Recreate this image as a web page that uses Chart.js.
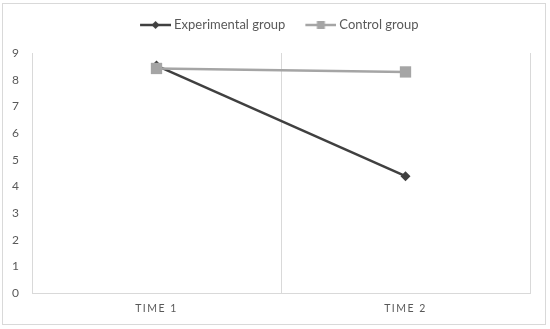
<!DOCTYPE html>
<html>
<head>
<meta charset="utf-8">
<script src="https://cdn.jsdelivr.net/npm/chart.js@4/dist/chart.umd.min.js"></script>
<style>
  html, body { margin: 0; padding: 0; background: #fff; }
  #wrap { position: relative; width: 550px; height: 329px; }
  #frame { position: absolute; left: 2px; top: 3px; width: 544px; height: 322px; box-sizing: border-box; border: 1px solid #d9d9d9; }
  canvas { position: absolute; left: 0; top: 0; }
</style>
</head>
<body>
<div id="wrap">
  <div id="frame"></div>
  <canvas id="c" width="550" height="329"></canvas>
</div>
<script>
const categories = ['TIME 1', 'TIME 2'];
const seriesNames = ['Experimental group', 'Control group'];
const experimental = [8.53, 4.38];
const control = [8.42, 8.29];
const yTicks = [0, 1, 2, 3, 4, 5, 6, 7, 8, 9];

const FONT = 'Lato';
const EXP_COLOR = '#404040';
const CTL_COLOR = '#a5a5a5';

function legendIcon(color, shape) {
  const cv = document.createElement('canvas');
  cv.width = 47; cv.height = 14;
  const g = cv.getContext('2d');
  g.strokeStyle = color; g.lineWidth = 2.5;
  g.beginPath(); g.moveTo(16, 7); g.lineTo(47, 7); g.stroke();
  g.fillStyle = color;
  const cx = 31.5, cy = 7;
  g.beginPath();
  if (shape === 'diamond') {
    g.moveTo(cx, cy - 4); g.lineTo(cx + 4, cy); g.lineTo(cx, cy + 4); g.lineTo(cx - 4, cy);
  } else {
    g.rect(cx - 4, cy - 4, 8, 8);
  }
  g.closePath(); g.fill();
  return cv;
}
const icons = [legendIcon(EXP_COLOR, 'diamond'), legendIcon(CTL_COLOR, 'square')];

const layoutPlugin = {
  id: 'layoutTweaks',
  beforeInit(chart) {
    const lg = chart.legend;
    if (lg) {
      const f = lg.fit;
      lg.fit = function () { f.call(this); this.height = 42; };
    }
  },
  afterLayout(chart) {
    const lg = chart.legend;
    if (lg) { lg.left += 3; lg.right += 3; }
  },
  beforeDraw(chart) {
    const sx = chart.scales.x;
    if (sx && !sx._lsPatched) {
      const orig = sx.drawLabels;
      sx.drawLabels = function (a) {
        this.ctx.save();
        this.ctx.letterSpacing = '1.5px';
        orig.call(this, a);
        this.ctx.restore();
      };
      sx._lsPatched = true;
    }
  }
};

new Chart(document.getElementById('c'), {
  type: 'line',
  data: {
    labels: categories,
    datasets: [
      {
        label: seriesNames[0], data: experimental, order: 1,
        borderColor: EXP_COLOR, backgroundColor: EXP_COLOR, borderWidth: 2.5,
        pointStyle: 'rectRot', pointRadius: 5, pointBorderWidth: 0, pointBackgroundColor: EXP_COLOR,
        tension: 0
      },
      {
        label: seriesNames[1], data: control, order: 0,
        borderColor: CTL_COLOR, backgroundColor: CTL_COLOR, borderWidth: 2.5,
        pointStyle: 'rect', pointRadius: 8, pointBorderWidth: 0, pointBackgroundColor: CTL_COLOR,
        tension: 0
      }
    ]
  },
  options: {
    responsive: false,
    animation: false,
    devicePixelRatio: 1,
    layout: { padding: { left: 10, right: 20, top: 11, bottom: 0 } },
    plugins: {
      tooltip: { enabled: false },
      legend: {
        position: 'top',
        labels: {
          usePointStyle: true,
          pointStyleWidth: 40,
          padding: 7.5,
          color: '#595959',
          font: { family: FONT, size: 13 },
          sort: (a, b) => a.datasetIndex - b.datasetIndex,
          generateLabels(chart) {
            const items = Chart.defaults.plugins.legend.labels.generateLabels(chart);
            items.forEach(it => { it.pointStyle = icons[it.datasetIndex]; });
            return items;
          }
        }
      }
    },
    scales: {
      x: {
        offset: true,
        grid: { display: true, offset: true, color: '#d9d9d9', lineWidth: 1, drawTicks: false },
        border: { display: true, color: '#d9d9d9', width: 1 },
        ticks: { color: '#595959', font: { family: FONT, size: 10.5 }, padding: 9 },
        afterFit(scale) { scale.height = 36; }
      },
      y: {
        min: 0, max: 9,
        afterBuildTicks(scale) { scale.ticks = yTicks.map(v => ({ value: v })); },
        grid: { display: false, drawTicks: false },
        border: { display: false },
        ticks: { color: '#595959', font: { family: FONT, size: 12 }, padding: 13 },
        afterFit(scale) { scale.width = 22; }
      }
    }
  },
  plugins: [layoutPlugin]
});
</script>
</body>
</html>
